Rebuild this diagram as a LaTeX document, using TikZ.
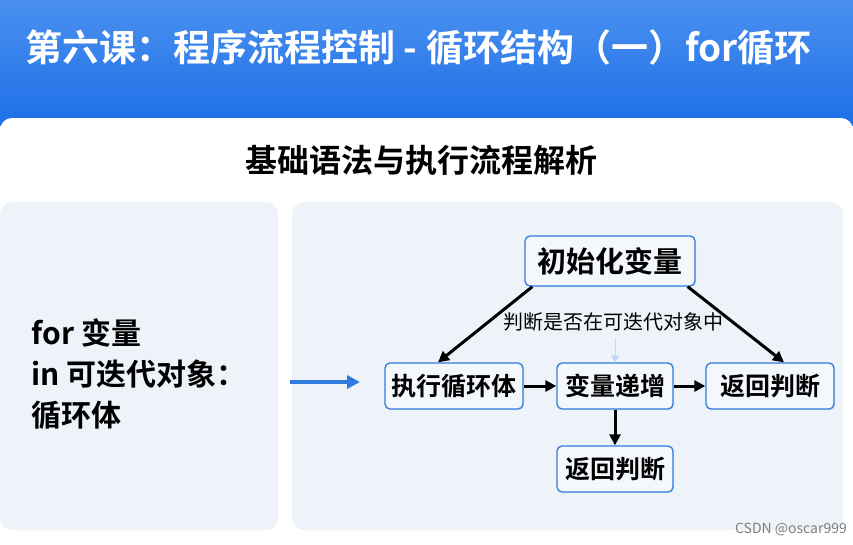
\documentclass[tikz,border=0pt]{standalone}
\usepackage{fontspec}
\setmainfont{Noto Sans CJK SC}
\newfontfamily\cjkb{Noto Sans CJK SC Bold}
\usetikzlibrary{arrows.meta,shadows}
\definecolor{bannerA}{HTML}{1E6FE6}
\definecolor{bannerB}{HTML}{4A90F0}
\definecolor{panel}{HTML}{EEF3F9}
\definecolor{boxline}{HTML}{2F7BE0}
\definecolor{boxfill}{HTML}{F4F8FD}
\tikzset{
  fbox/.style={draw=boxline,line width=1.3pt,fill=boxfill,rounded corners=5pt,font=\cjkb\fontsize{25}{27}\selectfont,inner sep=0pt,drop shadow={opacity=0.15,shadow xshift=1pt,shadow yshift=-1pt}},
  arr/.style={-{Triangle[length=11pt,width=11pt]},line width=3pt,black},
}
\begin{document}
\begin{tikzpicture}[x=1pt,y=-1pt]
\useasboundingbox (0,0) rectangle (853,544);
\shade[top color=bannerB,bottom color=bannerA] (0,0) rectangle (853,125);
\fill[white,rounded corners=12pt] (0,118) rectangle (853,560);
\node[text=white,font=\cjkb\fontsize{37}{40}\selectfont,anchor=west] (title) at (22,48) {第六课：程序流程控制 - 循环结构（一）for循环};
\node[font=\cjkb\fontsize{32}{34}\selectfont] (sub) at (421,160) {基础语法与执行流程解析};
\fill[panel,rounded corners=12pt] (0,202) rectangle (278,530);
\fill[panel,rounded corners=12pt] (292,202) rectangle (843,530);
\node[font=\cjkb\fontsize{30}{41}\selectfont,align=left,anchor=west] (code) at (28,374) {for 变量\\in 可迭代对象：\\循环体};
\coordinate (a1) at (290,382);
\coordinate (a2) at (360,382);
\draw[-{Triangle[length=13pt,width=13pt]},line width=3.5pt,boxline] (a1) -- (a2);
\node[fbox,minimum width=170pt,minimum height=50pt,font=\cjkb\fontsize{29}{31}\selectfont] (init) at (610,261) {初始化变量};
\node[fbox,minimum width=138pt,minimum height=46pt] (exec) at (454,386) {执行循环体};
\node[fbox,minimum width=116pt,minimum height=46pt] (inc) at (615,386) {变量递增};
\node[fbox,minimum width=128pt,minimum height=46pt] (ret1) at (770,386) {返回判断};
\node[fbox,minimum width=116pt,minimum height=46pt] (ret2) at (615,469) {返回判断};
\node[font=\fontsize{20}{22}\selectfont] (lab) at (613,322) {判断是否在可迭代对象中};
\draw[-{Triangle[length=7pt,width=8pt]},line width=1pt,color=boxline!30] (lab.south -| inc.north) ++(0,3) -- (inc.north);
\draw[arr] (init.south west) ++(8,0) -- ([xshift=-16pt]exec.north);
\draw[arr] (init.south east) ++(-8,0) -- ([xshift=14pt]ret1.north);
\draw[arr] (exec) -- (inc);
\draw[arr] (inc) -- (ret1);
\draw[arr] (inc) -- (ret2);
\node[text=gray,font=\fontsize{14}{16}\selectfont] (wm) at (791,529) {CSDN @oscar999};
\end{tikzpicture}
\end{document}
